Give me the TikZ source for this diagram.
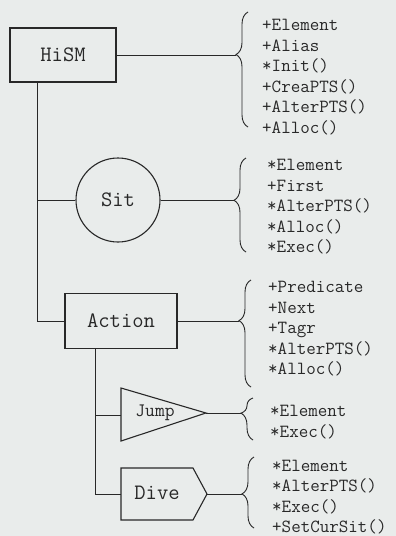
\documentclass[tikz,border=0pt]{standalone}
\usepackage{tikz}
\usetikzlibrary{calc,decorations.pathreplacing,positioning}
\definecolor{paper}{RGB}{233,236,235}
\definecolor{ink}{RGB}{40,40,40}

\begin{document}
\begin{tikzpicture}[x=1pt, y=-1pt,
    every node/.style={text=ink},
    block/.style={draw=ink, line width=1.1pt},
    title/.style={font=\ttfamily\fontsize{22}{26}\selectfont},
    members/.style={font=\ttfamily\fontsize{18.5}{20.5}\selectfont, align=left, anchor=west, inner sep=0pt},
    wire/.style={draw=ink, line width=0.8pt},
    curly/.style={draw=ink, line width=0.9pt, decorate, decoration={brace, amplitude=12pt, aspect=#1}}]
        \fill[paper] (0,0) rectangle (396,536);
        \useasboundingbox (0,0) rectangle (396,536);

        \coordinate (j1) at (121, 388);
        \coordinate (j2) at (206, 413);
        \coordinate (j3) at (121, 441);
        \coordinate (jumpin) at (121, 415);
        \coordinate (d1) at (121, 468);
        \coordinate (d2) at (193, 468);
        \coordinate (d3) at (207, 494);
        \coordinate (d4) at (193, 520);
        \coordinate (d5) at (121, 520);
        \coordinate (divein) at (121, 494);
        \coordinate (trunka) at (37, 200);
        \coordinate (trunkb) at (95, 415);

        \coordinate (hismtip) at (236, 55);
        \coordinate (sittip) at (234, 200);
        \coordinate (actiontip) at (239, 321);
        \coordinate (jumptip) at (241, 413);
        \coordinate (divetip) at (242, 494);

        \node[block, title, minimum width=106pt, minimum height=54pt] (hism) at (63, 55) {HiSM};
        \node[block, title, circle, minimum size=84pt] (sit) at (118, 200) {Sit};
        \node[block, title, minimum width=112pt, minimum height=55pt] (action) at (121, 321) {Action};
        \draw[block] (j1) -- (j2) -- (j3) -- cycle;
        \node[title, font=\ttfamily\fontsize{19}{22}\selectfont] (jump) at (155, 413) {Jump};
        \draw[block] (d1) -- (d2) -- (d3) -- (d4) -- (d5) -- cycle;
        \node[title] (dive) at (157, 493) {Dive};

        \node[members] (hismlist) at (262, 77) {+Element\\+Alias\\*Init()\\+CreaPTS()\\+AlterPTS()\\+Alloc()};
        \node[members] (sitlist) at (267, 207) {*Element\\+First\\*AlterPTS()\\*Alloc()\\*Exec()};
        \node[members] (actionlist) at (268, 329) {+Predicate\\+Next\\+Tagr\\*AlterPTS()\\*Alloc()};
        \node[members] (jumplist) at (270, 422) {*Element\\*Exec()};
        \node[members] (divelist) at (272, 497) {*Element\\*AlterPTS()\\*Exec()\\+SetCurSit()};

        % braces in front of the member lists
        \draw[curly=0.63] (248, 127) -- (248, 12);
        \draw[curly=0.55] (246, 252) -- (246, 158);
        \draw[curly=0.62] (251, 387) -- (251, 280);
        \draw[curly=0.64] (253, 440) -- (253, 398);
        \draw[curly=0.48] (254, 528) -- (254, 457);

        \draw[wire] (hism.south -| trunka) |- (action.west);
        \draw[wire] (trunka) -- (sit.west);
        \draw[wire] (action.south -| trunkb) |- (divein);
        \draw[wire] (trunkb) -- (jumpin);

        \draw[wire] (hism.east) -- (hismtip);
        \draw[wire] (sit.east) -- (sittip);
        \draw[wire] (action.east) -- (actiontip);
        \draw[wire] (j2) -- (jumptip);
        \draw[wire] (d3) -- (divetip);
    \end{tikzpicture}
\end{document}
